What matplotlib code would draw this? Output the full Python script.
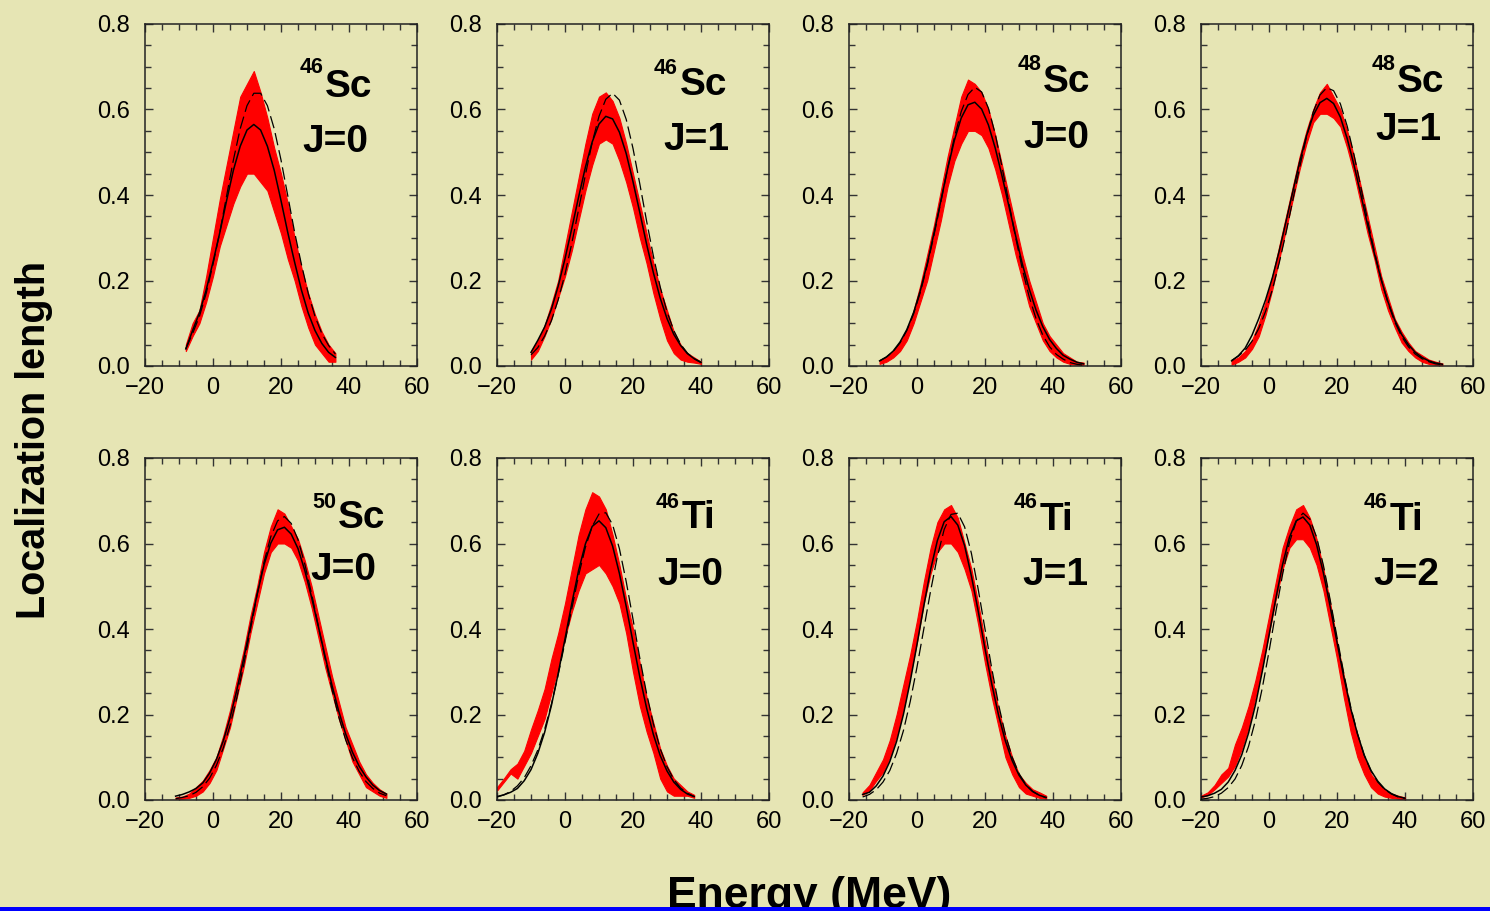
import matplotlib
matplotlib.use("Agg")
import matplotlib.pyplot as plt
from matplotlib.patches import Rectangle
from matplotlib.ticker import MultipleLocator

plt.rcParams['font.family'] = ['Liberation Sans', 'DejaVu Sans']

# ---- data (energy in MeV, localization length) ----
masses = ['46', '46', '48', '48', '50', '46', '46', '46']
elements = ['Sc', 'Sc', 'Sc', 'Sc', 'Sc', 'Ti', 'Ti', 'Ti']
spins = ['J=0', 'J=1', 'J=0', 'J=1', 'J=0', 'J=0', 'J=1', 'J=2']

# 46Sc J=0
e_1 = [-8, -6, -4, -2, 0, 2, 4, 6, 8, 10, 12, 14, 16, 18, 20, 22, 24, 26, 28, 30, 32, 34, 36]
solid_1 = [0.04, 0.083, 0.124, 0.178, 0.243, 0.312, 0.387, 0.458, 0.514, 0.552, 0.565, 0.552,
           0.514, 0.458, 0.387, 0.312, 0.243, 0.178, 0.124, 0.083, 0.053, 0.032, 0.02]
dashed_1 = [0.04, 0.076, 0.116, 0.170, 0.238, 0.313, 0.398, 0.482, 0.555, 0.609, 0.638, 0.638,
            0.609, 0.555, 0.482, 0.398, 0.313, 0.238, 0.170, 0.116, 0.076, 0.048, 0.028]
red_lo_1 = [0.035, 0.07, 0.10, 0.15, 0.21, 0.28, 0.33, 0.38, 0.42, 0.45, 0.45, 0.43,
            0.41, 0.36, 0.31, 0.25, 0.20, 0.14, 0.09, 0.05, 0.03, 0.01, 0.01]
red_hi_1 = [0.05, 0.10, 0.13, 0.21, 0.30, 0.39, 0.47, 0.55, 0.63, 0.66, 0.69, 0.64,
            0.58, 0.51, 0.45, 0.38, 0.30, 0.23, 0.17, 0.12, 0.08, 0.05, 0.03]

# 46Sc J=1
e_2 = [-10, -8, -6, -4, -2, 0, 2, 4, 6, 8, 10, 12, 14, 16, 18, 20, 22, 24, 26, 28, 30, 32, 34, 36, 38, 40]
solid_2 = [0.032, 0.060, 0.091, 0.133, 0.187, 0.251, 0.322, 0.395, 0.465, 0.524, 0.566, 0.584, 0.578,
           0.547, 0.497, 0.431, 0.359, 0.285, 0.218, 0.159, 0.111, 0.074, 0.048, 0.029, 0.017, 0.008]
dashed_2 = [0.026, 0.043, 0.070, 0.106, 0.155, 0.215, 0.287, 0.366, 0.447, 0.523, 0.584, 0.624, 0.638,
            0.622, 0.577, 0.509, 0.426, 0.339, 0.257, 0.185, 0.127, 0.083, 0.051, 0.030, 0.017, 0.009]
red_lo_2 = [0.015, 0.035, 0.07, 0.11, 0.16, 0.21, 0.27, 0.34, 0.41, 0.47, 0.52, 0.53, 0.52,
            0.48, 0.43, 0.37, 0.30, 0.24, 0.17, 0.11, 0.06, 0.03, 0.015, 0.01, 0.008, 0.005]
red_hi_2 = [0.035, 0.06, 0.095, 0.145, 0.20, 0.28, 0.36, 0.44, 0.52, 0.59, 0.63, 0.64, 0.62,
            0.58, 0.52, 0.45, 0.38, 0.31, 0.24, 0.18, 0.13, 0.08, 0.05, 0.03, 0.02, 0.01]

# 48Sc J=0
e_3 = [-11, -9, -7, -5, -3, -1, 1, 3, 5, 7, 9, 11, 13, 15, 17, 19, 21, 23, 25, 27, 29, 31,
       33, 35, 37, 39, 41, 43, 45, 47, 49]
solid_3 = [0.012, 0.021, 0.035, 0.056, 0.085, 0.125, 0.177, 0.239, 0.311, 0.386, 0.461, 0.528,
           0.580, 0.611, 0.617, 0.601, 0.564, 0.510, 0.445, 0.375, 0.305, 0.238, 0.180, 0.131,
           0.092, 0.062, 0.041, 0.025, 0.016, 0.009, 0.005]
dashed_3 = [0.012, 0.021, 0.034, 0.054, 0.083, 0.122, 0.173, 0.235, 0.306, 0.383, 0.462, 0.535,
            0.595, 0.635, 0.652, 0.641, 0.603, 0.543, 0.466, 0.383, 0.301, 0.226, 0.162, 0.111,
            0.072, 0.045, 0.027, 0.016, 0.008, 0.004, 0.002]
red_lo_3 = [0.005, 0.01, 0.02, 0.035, 0.06, 0.10, 0.15, 0.20, 0.27, 0.34, 0.42, 0.48, 0.52, 0.55,
            0.55, 0.54, 0.51, 0.46, 0.40, 0.33, 0.26, 0.20, 0.14, 0.10, 0.06, 0.035, 0.02, 0.01,
            0.005, 0.003, 0.003]
red_hi_3 = [0.012, 0.02, 0.035, 0.055, 0.085, 0.13, 0.19, 0.26, 0.33, 0.41, 0.49, 0.56, 0.63, 0.67,
            0.66, 0.64, 0.60, 0.54, 0.47, 0.40, 0.33, 0.26, 0.20, 0.15, 0.10, 0.07, 0.05, 0.03,
            0.02, 0.01, 0.008]

# 48Sc J=1
e_4 = [-11, -9, -7, -5, -3, -1, 1, 3, 5, 7, 9, 11, 13, 15, 17, 19, 21, 23, 25, 27, 29, 31,
       33, 35, 37, 39, 41, 43, 45, 47, 49, 51]
solid_4 = [0.012, 0.024, 0.042, 0.072, 0.111, 0.155, 0.207, 0.269, 0.338, 0.408, 0.477, 0.538,
           0.586, 0.616, 0.626, 0.614, 0.582, 0.532, 0.470, 0.401, 0.330, 0.263, 0.202, 0.150,
           0.107, 0.074, 0.050, 0.032, 0.020, 0.012, 0.007, 0.004]
dashed_4 = [0.013, 0.023, 0.037, 0.058, 0.088, 0.128, 0.179, 0.241, 0.311, 0.388, 0.464, 0.535,
            0.594, 0.634, 0.651, 0.644, 0.613, 0.561, 0.494, 0.419, 0.341, 0.268, 0.203, 0.147,
            0.103, 0.069, 0.045, 0.028, 0.017, 0.010, 0.005, 0.003]
red_lo_4 = [0.003, 0.01, 0.02, 0.04, 0.07, 0.12, 0.18, 0.25, 0.32, 0.39, 0.46, 0.52, 0.57, 0.59,
            0.59, 0.58, 0.56, 0.51, 0.45, 0.38, 0.31, 0.25, 0.18, 0.13, 0.09, 0.055, 0.035, 0.02,
            0.01, 0.005, 0.003, 0.002]
red_hi_4 = [0.012, 0.02, 0.035, 0.06, 0.10, 0.15, 0.21, 0.28, 0.35, 0.42, 0.49, 0.55, 0.60, 0.64,
            0.66, 0.63, 0.60, 0.55, 0.49, 0.42, 0.35, 0.28, 0.21, 0.16, 0.11, 0.08, 0.055, 0.035,
            0.025, 0.015, 0.01, 0.006]

# 50Sc J=0
e_5 = [-11, -9, -7, -5, -3, -1, 1, 3, 5, 7, 9, 11, 13, 15, 17, 19, 21, 23, 25, 27, 29, 31,
       33, 35, 37, 39, 41, 43, 45, 47, 49, 51]
solid_5 = [0.009, 0.013, 0.019, 0.027, 0.040, 0.063, 0.095, 0.138, 0.192, 0.257, 0.330, 0.407,
           0.482, 0.550, 0.601, 0.632, 0.638, 0.622, 0.588, 0.537, 0.474, 0.405, 0.335, 0.268,
           0.207, 0.155, 0.112, 0.079, 0.054, 0.035, 0.022, 0.014]
dashed_5 = [0.003, 0.006, 0.010, 0.018, 0.031, 0.051, 0.081, 0.121, 0.174, 0.239, 0.315, 0.398,
            0.481, 0.556, 0.616, 0.653, 0.663, 0.647, 0.609, 0.552, 0.482, 0.406, 0.330, 0.258,
            0.194, 0.141, 0.099, 0.067, 0.043, 0.027, 0.016, 0.010]
red_lo_5 = [0.003, 0.003, 0.005, 0.01, 0.02, 0.04, 0.07, 0.12, 0.17, 0.24, 0.31, 0.39, 0.46, 0.53,
            0.58, 0.60, 0.60, 0.59, 0.56, 0.51, 0.45, 0.38, 0.31, 0.25, 0.19, 0.14, 0.09, 0.06,
            0.03, 0.02, 0.01, 0.005]
red_hi_5 = [0.006, 0.008, 0.015, 0.03, 0.045, 0.07, 0.10, 0.15, 0.21, 0.28, 0.35, 0.43, 0.50, 0.58,
            0.64, 0.68, 0.67, 0.64, 0.61, 0.56, 0.50, 0.43, 0.36, 0.29, 0.23, 0.17, 0.13, 0.09,
            0.06, 0.04, 0.025, 0.015]

# 46Ti J=0
e_6 = [-20, -18, -16, -14, -12, -10, -8, -6, -4, -2, 0, 2, 4, 6, 8, 10, 12, 14, 16, 18, 20, 22,
       24, 26, 28, 30, 32, 34, 36, 38]
solid_6 = [0.008, 0.012, 0.018, 0.027, 0.045, 0.071, 0.109, 0.158, 0.221, 0.296, 0.377, 0.460,
           0.537, 0.599, 0.640, 0.653, 0.637, 0.594, 0.530, 0.453, 0.369, 0.288, 0.215, 0.153,
           0.104, 0.068, 0.042, 0.025, 0.014, 0.008]
dashed_6 = [0.007, 0.012, 0.020, 0.033, 0.052, 0.080, 0.117, 0.165, 0.224, 0.293, 0.369, 0.448,
            0.525, 0.591, 0.640, 0.669, 0.672, 0.644, 0.588, 0.511, 0.423, 0.332, 0.249, 0.178,
            0.120, 0.078, 0.048, 0.028, 0.016, 0.008]
red_lo_6 = [0.022, 0.042, 0.062, 0.05, 0.08, 0.11, 0.15, 0.19, 0.25, 0.31, 0.38, 0.44, 0.49, 0.53,
            0.54, 0.55, 0.53, 0.50, 0.46, 0.39, 0.30, 0.22, 0.16, 0.11, 0.05, 0.02, 0.01, 0.01,
            0.01, 0.005]
red_hi_6 = [0.03, 0.05, 0.072, 0.085, 0.115, 0.165, 0.21, 0.26, 0.33, 0.39, 0.46, 0.54, 0.62, 0.68,
            0.72, 0.71, 0.68, 0.62, 0.55, 0.47, 0.40, 0.32, 0.24, 0.18, 0.12, 0.08, 0.05, 0.035,
            0.02, 0.012]

# 46Ti J=1
e_7 = [-16, -14, -12, -10, -8, -6, -4, -2, 0, 2, 4, 6, 8, 10, 12, 14, 16, 18, 20, 22, 24, 26,
       28, 30, 32, 34, 36, 38]
solid_7 = [0.013, 0.018, 0.033, 0.056, 0.090, 0.137, 0.200, 0.277, 0.364, 0.454, 0.539, 0.607,
           0.651, 0.663, 0.643, 0.595, 0.524, 0.442, 0.354, 0.271, 0.198, 0.138, 0.092, 0.058,
           0.035, 0.020, 0.011, 0.006]
dashed_7 = [0.007, 0.013, 0.024, 0.042, 0.069, 0.109, 0.162, 0.230, 0.311, 0.400, 0.489, 0.570,
            0.633, 0.668, 0.671, 0.639, 0.577, 0.493, 0.400, 0.307, 0.223, 0.153, 0.100, 0.062,
            0.036, 0.020, 0.011, 0.005]
red_lo_7 = [0.012, 0.022, 0.045, 0.065, 0.10, 0.15, 0.21, 0.29, 0.37, 0.46, 0.53, 0.58, 0.60, 0.60,
            0.58, 0.54, 0.49, 0.41, 0.32, 0.24, 0.17, 0.10, 0.06, 0.03, 0.015, 0.01, 0.005, 0.003]
red_hi_7 = [0.018, 0.035, 0.065, 0.095, 0.14, 0.20, 0.27, 0.34, 0.42, 0.51, 0.59, 0.65, 0.68, 0.69,
            0.66, 0.60, 0.54, 0.46, 0.37, 0.29, 0.21, 0.15, 0.10, 0.06, 0.04, 0.025, 0.018, 0.01]

# 46Ti J=2
e_8 = [-20, -18, -16, -14, -12, -10, -8, -6, -4, -2, 0, 2, 4, 6, 8, 10, 12, 14, 16, 18, 20, 22,
       24, 26, 28, 30, 32, 34, 36, 38, 40]
solid_8 = [0.007, 0.010, 0.016, 0.025, 0.042, 0.069, 0.106, 0.157, 0.222, 0.300, 0.385, 0.471,
           0.551, 0.614, 0.653, 0.662, 0.643, 0.597, 0.531, 0.452, 0.369, 0.288, 0.215, 0.155,
           0.105, 0.069, 0.044, 0.026, 0.015, 0.008, 0.004]
dashed_8 = [0.002, 0.004, 0.008, 0.016, 0.029, 0.049, 0.081, 0.126, 0.186, 0.261, 0.347, 0.440,
            0.528, 0.602, 0.652, 0.671, 0.657, 0.615, 0.549, 0.468, 0.381, 0.296, 0.219, 0.156,
            0.105, 0.068, 0.042, 0.025, 0.014, 0.007, 0.004]
red_lo_8 = [0.006, 0.012, 0.025, 0.04, 0.055, 0.08, 0.12, 0.17, 0.24, 0.31, 0.39, 0.47, 0.54, 0.59,
            0.61, 0.61, 0.59, 0.55, 0.49, 0.41, 0.33, 0.24, 0.16, 0.10, 0.06, 0.03, 0.015, 0.008,
            0.005, 0.003, 0.002]
red_hi_8 = [0.01, 0.018, 0.035, 0.06, 0.075, 0.13, 0.17, 0.22, 0.28, 0.35, 0.43, 0.51, 0.59, 0.64,
            0.68, 0.69, 0.66, 0.61, 0.54, 0.46, 0.37, 0.29, 0.21, 0.15, 0.10, 0.06, 0.04, 0.025,
            0.015, 0.01, 0.006]

energies = [e_1, e_2, e_3, e_4, e_5, e_6, e_7, e_8]
solids = [solid_1, solid_2, solid_3, solid_4, solid_5, solid_6, solid_7, solid_8]
dasheds = [dashed_1, dashed_2, dashed_3, dashed_4, dashed_5, dashed_6, dashed_7, dashed_8]
red_los = [red_lo_1, red_lo_2, red_lo_3, red_lo_4, red_lo_5, red_lo_6, red_lo_7, red_lo_8]
red_his = [red_hi_1, red_hi_2, red_hi_3, red_hi_4, red_hi_5, red_hi_6, red_hi_7, red_hi_8]

# ---- layout (pixels of a 1490x911 canvas) ----
W, H = 1490, 911
bg = '#e6e5b4'
col_left = [145, 497, 849, 1201]
row_bottom = [366, 800]
ax_w, ax_h = 272, 342

# label anchors: (element left x, element baseline, mass baseline, J left x, J baseline)
label_pos = [(325, 97, 73, 302, 152), (680, 95, 74, 663, 150),
             (1043, 92, 70, 1023, 148), (1397, 92, 70, 1375, 140),
             (338, 528, 508, 310, 580), (682, 528, 508, 657, 585),
             (1040, 530, 508, 1022, 585), (1390, 530, 508, 1373, 585)]

fig = plt.figure(figsize=(W / 100, H / 100), dpi=100, facecolor=bg)


def fx(x):
    return x / W


def fy(y):
    return 1 - y / H


for i in range(8):
    r, c = divmod(i, 4)
    ax = fig.add_axes([fx(col_left[c]), fy(row_bottom[r]), ax_w / W, ax_h / H])
    ax.set_facecolor(bg)
    ax.fill_between(energies[i], red_los[i], red_his[i], color='#ff0000', lw=0.8, zorder=2)
    ax.plot(energies[i], solids[i], color='black', lw=1.1, zorder=3)
    ax.plot(energies[i], dasheds[i], color='black', lw=0.9, dashes=(10, 4), zorder=3)
    ax.set_xlim(-20, 60)
    ax.set_ylim(0, 0.8)
    ax.xaxis.set_major_locator(MultipleLocator(20))
    ax.xaxis.set_minor_locator(MultipleLocator(5))
    ax.yaxis.set_major_locator(MultipleLocator(0.2))
    ax.yaxis.set_minor_locator(MultipleLocator(0.05))
    ax.yaxis.set_major_formatter(plt.FuncFormatter(lambda v, p: f'{v:.1f}'))
    ax.tick_params(which='both', direction='in', top=True, right=True, width=1,
                   color='#333333', labelsize=17)
    ax.tick_params(which='major', length=6)
    ax.tick_params(which='minor', length=4)
    ax.tick_params(axis='x', pad=8)
    ax.tick_params(axis='y', pad=11)
    for s in ax.spines.values():
        s.set_linewidth(1.1)
        s.set_color('#222222')

    ex, eb, mb, jx, jb = label_pos[i]
    fig.text(fx(ex), fy(eb), elements[i], fontsize=28, fontweight='bold',
             ha='left', va='baseline')
    fig.text(fx(ex - 2), fy(mb), masses[i], fontsize=15.5, fontweight='bold',
             ha='right', va='baseline')
    fig.text(fx(jx), fy(jb), spins[i], fontsize=28, fontweight='bold',
             ha='left', va='baseline')

fig.text(fx(34), fy(440), 'Localization length', fontsize=28.5, fontweight='bold',
         rotation=90, ha='center', va='center')
fig.text(fx(809), fy(908), 'Energy (MeV)', fontsize=32, fontweight='bold',
         ha='center', va='baseline')

# blue strip along the bottom edge
fig.patches.append(Rectangle((0, 0), 1, 4 / H, transform=fig.transFigure,
                             facecolor='#0000ff', edgecolor='none', zorder=10))

fig.savefig('out.png', dpi=100, facecolor=bg)
